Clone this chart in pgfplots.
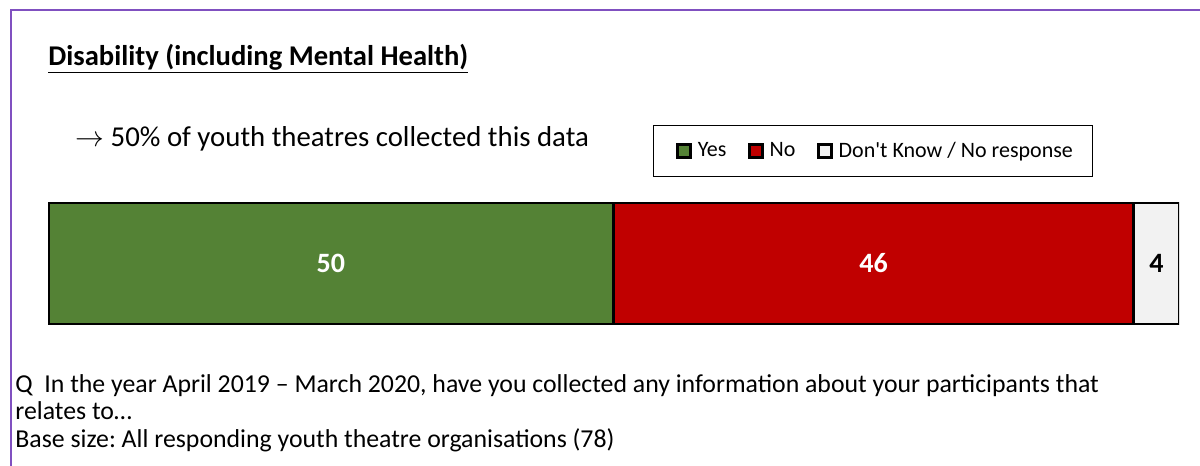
\documentclass[border=0pt]{standalone}
\usepackage{pgfplots}
\pgfplotsset{compat=1.18}
\usepackage{fontspec}
\setmainfont{Carlito}
\newfontfamily\rawfont{Carlito}
\frenchspacing
\definecolor{cgreen}{HTML}{548235}
\definecolor{cred}{HTML}{C00000}
\definecolor{cgray}{HTML}{F2F2F2}
\definecolor{cpurple}{HTML}{8050C0}
\begin{document}
\begin{tikzpicture}
\begin{scope}[x=0.5pt,y=-0.5pt]
\useasboundingbox (0,0) rectangle (1200,466);
\draw[cpurple, line width=1.1pt] (11,480) -- (11,10) -- (1210,10);
\node[anchor=base west, inner sep=0pt, font=\bfseries\fontsize{14.3}{16}\selectfont] at (48,65) {\underline{Disability (including Mental Health)}};
\node[anchor=base west, inner sep=0pt, font=\fontsize{14.4}{17}\selectfont] at (75,146) {$\rightarrow$\ 50\% of youth theatres collected this data};
\node[anchor=base west, inner sep=0pt, font=\fontsize{12.9}{15}\selectfont] at (15,392) {Q\ \ In the year April 2019 – March 2020, have you collected any information about your participants that};
\node[anchor=base west, inner sep=0pt, font=\fontsize{12.9}{15}\selectfont] at (15,419) {relates to…};
\node[anchor=base west, inner sep=0pt, font=\fontsize{12.9}{15}\selectfont] at (15,447) {Base size: All responding youth theatre organisations (78)};
\end{scope}
\begin{axis}[
  at={(24pt,-162pt)}, anchor=south west,
  scale only axis, width=565.5pt, height=61pt,
  xbar stacked, bar width=61pt,
  xmin=0, xmax=100, ymin=-0.5, ymax=0.5,
  hide axis,
  legend columns=3,
  area legend,
  legend image code/.code={\path[draw=none, fill=none] (0pt,0pt) -- (0.1pt,0pt); \draw[#1, line width=1.4pt, draw=black] (4pt,-3.2pt) rectangle (10.4pt,3.2pt);},
  legend style={at={(0.535,1.628)}, anchor=north west, draw=black, line width=0.5pt,
    font=\rawfont\fontsize{11}{13}\selectfont, inner xsep=8pt, inner ysep=6pt,
    /tikz/every odd column/.append style={column sep=1pt},
    /tikz/every even column/.append style={column sep=5.5pt}},
]
\addplot[fill=cgreen, draw=black, line width=1.5pt] coordinates {(50,0)};
\addlegendentry{Yes}
\addplot[fill=cred, draw=black, line width=1.5pt] coordinates {(46,0)};
\addlegendentry{No}
\addplot[fill=cgray, draw=black, line width=1.5pt] coordinates {(4,0)};
\addlegendentry{Don't Know / No response}
\coordinate (l1) at (axis cs:25,0);
\coordinate (l2) at (axis cs:73,0);
\coordinate (l3) at (axis cs:98,0);
\end{axis}
\node[font=\bfseries\fontsize{14}{16}\selectfont, text=white] at (l1) {50};
\node[font=\bfseries\fontsize{14}{16}\selectfont, text=white] at (l2) {46};
\node[font=\bfseries\fontsize{14}{16}\selectfont, text=black] at (l3) {4};
\end{tikzpicture}
\end{document}
